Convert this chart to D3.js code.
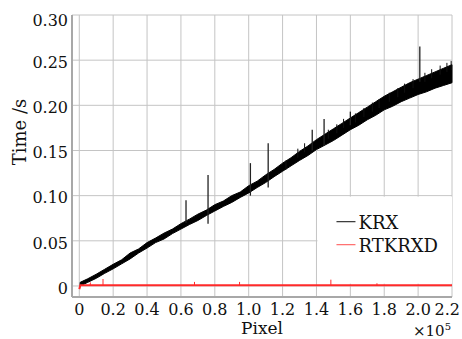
<!DOCTYPE html>
<html>
<head>
<meta charset="utf-8">
<script src="https://cdn.jsdelivr.net/npm/d3@7/dist/d3.min.js"></script>
<style>
  body { margin: 0; background: #fff; }
  svg { display: block; }
</style>
</head>
<body>
<svg id="chart"></svg>
<script>
// ---- data (x in units of 1e5 pixels, y in seconds) ----
const xTicks = [0, 0.2, 0.4, 0.6, 0.8, 1.0, 1.2, 1.4, 1.6, 1.8, 2.0, 2.2];
const xTickLabels = ["0", "0.2", "0.4", "0.6", "0.8", "1.0", "1.2", "1.4", "1.6", "1.8", "2.0", "2.2"];
const yTicks = [0, 0.05, 0.10, 0.15, 0.20, 0.25, 0.30];
const yTickLabels = ["0", "0.05", "0.10", "0.15", "0.20", "0.25", "0.30"];

// KRX: envelope of the noisy black trace
const krxX = [0.005, 0.05, 0.10, 0.15, 0.20, 0.25, 0.30, 0.35, 0.40, 0.45, 0.50, 0.55, 0.60, 0.65, 0.70,
  0.75, 0.80, 0.85, 0.90, 0.95, 1.00, 1.05, 1.10, 1.15, 1.20, 1.25, 1.30, 1.35, 1.40, 1.45, 1.50,
  1.55, 1.60, 1.65, 1.70, 1.75, 1.80, 1.85, 1.90, 1.95, 2.00, 2.05, 2.10, 2.15, 2.20];
const krxLow = [0.000, 0.004, 0.0085, 0.014, 0.019, 0.0245, 0.030, 0.0365, 0.042, 0.048, 0.052, 0.058, 0.063, 0.068, 0.0725,
  0.078, 0.083, 0.088, 0.0925, 0.098, 0.103, 0.109, 0.1145, 0.121, 0.127, 0.133, 0.139, 0.1445, 0.151, 0.156, 0.161,
  0.167, 0.173, 0.178, 0.184, 0.189, 0.195, 0.199, 0.204, 0.208, 0.212, 0.215, 0.219, 0.222, 0.225];
const krxHigh = [0.004, 0.008, 0.013, 0.0185, 0.024, 0.029, 0.0365, 0.041, 0.048, 0.053, 0.0585, 0.063, 0.069, 0.074, 0.0795,
  0.084, 0.090, 0.094, 0.100, 0.104, 0.111, 0.116, 0.123, 0.129, 0.136, 0.142, 0.149, 0.155, 0.162, 0.168, 0.174,
  0.180, 0.186, 0.192, 0.198, 0.204, 0.210, 0.215, 0.220, 0.225, 0.229, 0.233, 0.237, 0.241, 0.245];
// KRX: isolated spikes [x, low, high]
const krxSpikes = [
  [0.63, 0.070, 0.095], [0.76, 0.069, 0.123], [1.01, 0.100, 0.136], [1.115, 0.109, 0.158],
  [1.375, 0.150, 0.173], [1.445, 0.155, 0.185], [1.60, 0.178, 0.193], [2.01, 0.226, 0.265]
];
// KRX: short hairs on the upper edge [x, top]
const krxHairs = [
  [1.22, 0.139], [1.29, 0.152], [1.33, 0.158], [1.47, 0.173], [1.52, 0.179], [1.56, 0.185],
  [1.63, 0.191], [1.68, 0.197], [1.73, 0.203], [1.77, 0.207], [1.83, 0.214], [1.88, 0.219],
  [1.92, 0.224], [1.97, 0.229], [2.04, 0.236], [2.08, 0.240], [2.13, 0.244], [2.17, 0.247], [2.195, 0.249]
];

// RTKRXD: flat red trace near zero
const rtX = [0, 0.004, 0.006, 2.2];
const rtY = [-0.0035, -0.001, 0.0008, 0.0008];
const rtSpikes = [[0.065, 0.004], [0.14, 0.0077], [0.68, 0.0045], [0.946, 0.0045], [1.485, 0.007], [1.757, 0.003]];

const seriesNames = ["KRX", "RTKRXD"];
const seriesColors = ["#000000", "#ff2a2a"];

// ---- layout ----
const W = 462, H = 339;
const margin = { top: 15, right: 10, bottom: 42, left: 72 };
const width = W - margin.left - margin.right;
const height = H - margin.top - margin.bottom;
const FONT = "'DejaVu Serif', 'Liberation Serif', 'Noto Serif', 'Times New Roman', serif";

const svg = d3.select("#chart").attr("width", W).attr("height", H)
  .attr("font-family", FONT);
const g = svg.append("g").attr("transform", `translate(${margin.left},${margin.top})`);

const x = d3.scaleLinear().domain([-0.043, 2.2]).range([0, width]);
const y = d3.scaleLinear().domain([-0.0122, 0.30]).range([height, 0]);

// grid
g.append("g")
  .selectAll("line")
  .data(xTicks)
  .join("line")
  .attr("x1", d => x(d)).attr("x2", d => x(d))
  .attr("y1", 0).attr("y2", height)
  .attr("stroke", "#c4c4c4").attr("stroke-width", 1);

g.append("g")
  .selectAll("line")
  .data(yTicks)
  .join("line")
  .attr("x1", 0).attr("x2", width)
  .attr("y1", d => y(d)).attr("y2", d => y(d))
  .attr("stroke", "#c4c4c4").attr("stroke-width", 1);

// axis lines (left and bottom)
g.append("line").attr("x1", 0).attr("x2", 0).attr("y1", 0).attr("y2", height)
  .attr("stroke", "#a8a8a8").attr("stroke-width", 2);
g.append("line").attr("x1", 0).attr("x2", width).attr("y1", height).attr("y2", height)
  .attr("stroke", "#a8a8a8").attr("stroke-width", 2);

// tick labels
g.append("g")
  .selectAll("text")
  .data(xTicks)
  .join("text")
  .attr("x", (d, i) => i === xTicks.length - 1 ? width + 8 : x(d))
  .attr("y", height + 18)
  .attr("text-anchor", (d, i) => i === xTicks.length - 1 ? "end" : "middle")
  .attr("font-size", 16)
  .attr("fill", "#111")
  .text((d, i) => xTickLabels[i]);

g.append("g")
  .selectAll("text")
  .data(yTicks)
  .join("text")
  .attr("x", -4)
  .attr("y", d => y(d) + (d === 0.30 ? 5 : 2))
  .attr("dy", "0.36em")
  .attr("text-anchor", "end")
  .attr("font-size", 16)
  .attr("fill", "#111")
  .text((d, i) => yTickLabels[i]);

// axis titles
svg.append("text")
  .attr("x", margin.left + width / 2)
  .attr("y", 334)
  .attr("text-anchor", "middle")
  .attr("font-size", 17)
  .attr("fill", "#111")
  .text("Pixel");

const pow = svg.append("text")
  .attr("x", 413)
  .attr("y", 336)
  .attr("font-size", 15)
  .attr("fill", "#111");
pow.append("tspan").text("\u00d710");
pow.append("tspan").attr("dy", -6).attr("font-size", 10).text("5");

svg.append("text")
  .attr("transform", `translate(26,${132}) rotate(-90)`)
  .attr("text-anchor", "middle")
  .attr("font-size", 18)
  .attr("fill", "#111")
  .text("Time /s");

// legend box (covers the grid)
const legend = g.append("g").attr("transform", `translate(${x(1.4) + 1},${y(0.10) + 1})`);
legend.append("rect")
  .attr("width", width - x(1.4) - 1)
  .attr("height", 87)
  .attr("fill", "#fff");

// KRX band
const krx = krxX.map((d, i) => ({ x: d, lo: krxLow[i], hi: krxHigh[i] }));
g.append("path")
  .datum(krx)
  .attr("fill", seriesColors[0])
  .attr("stroke", seriesColors[0])
  .attr("stroke-width", 1)
  .attr("stroke-linejoin", "round")
  .attr("d", d3.area().x(d => x(d.x)).y0(d => y(d.lo)).y1(d => y(d.hi)));

g.append("g")
  .selectAll("line")
  .data(krxHairs)
  .join("line")
  .attr("x1", d => x(d[0])).attr("x2", d => x(d[0]))
  .attr("y1", d => y(d[1] - 0.01)).attr("y2", d => y(d[1]))
  .attr("stroke", "#111").attr("stroke-width", 1);

g.append("g")
  .selectAll("line")
  .data(krxSpikes)
  .join("line")
  .attr("x1", d => x(d[0])).attr("x2", d => x(d[0]))
  .attr("y1", d => y(d[1])).attr("y2", d => y(d[2]))
  .attr("stroke", "#222").attr("stroke-width", 1.3);

// RTKRXD
const rt = rtX.map((d, i) => ({ x: d, y: rtY[i] }));
g.append("path")
  .datum(rt)
  .attr("fill", "none")
  .attr("stroke", seriesColors[1])
  .attr("stroke-width", 2)
  .attr("d", d3.line().x(d => x(d.x)).y(d => y(d.y)));

g.append("g")
  .selectAll("line")
  .data(rtSpikes)
  .join("line")
  .attr("x1", d => x(d[0])).attr("x2", d => x(d[0]))
  .attr("y1", y(0.0008)).attr("y2", d => y(d[1]))
  .attr("stroke", seriesColors[1]).attr("stroke-width", 1);

// legend entries
seriesNames.forEach((name, i) => {
  const yy = 25 + i * 23;
  legend.append("line")
    .attr("x1", 19).attr("x2", 38)
    .attr("y1", yy).attr("y2", yy)
    .attr("stroke", i === 0 ? "#333" : "#ff6a6a").attr("stroke-width", 1.2);
  legend.append("text")
    .attr("x", 41).attr("y", yy + 7)
    .attr("font-size", 18)
    .attr("fill", "#111")
    .text(name);
});
</script>
</body>
</html>
